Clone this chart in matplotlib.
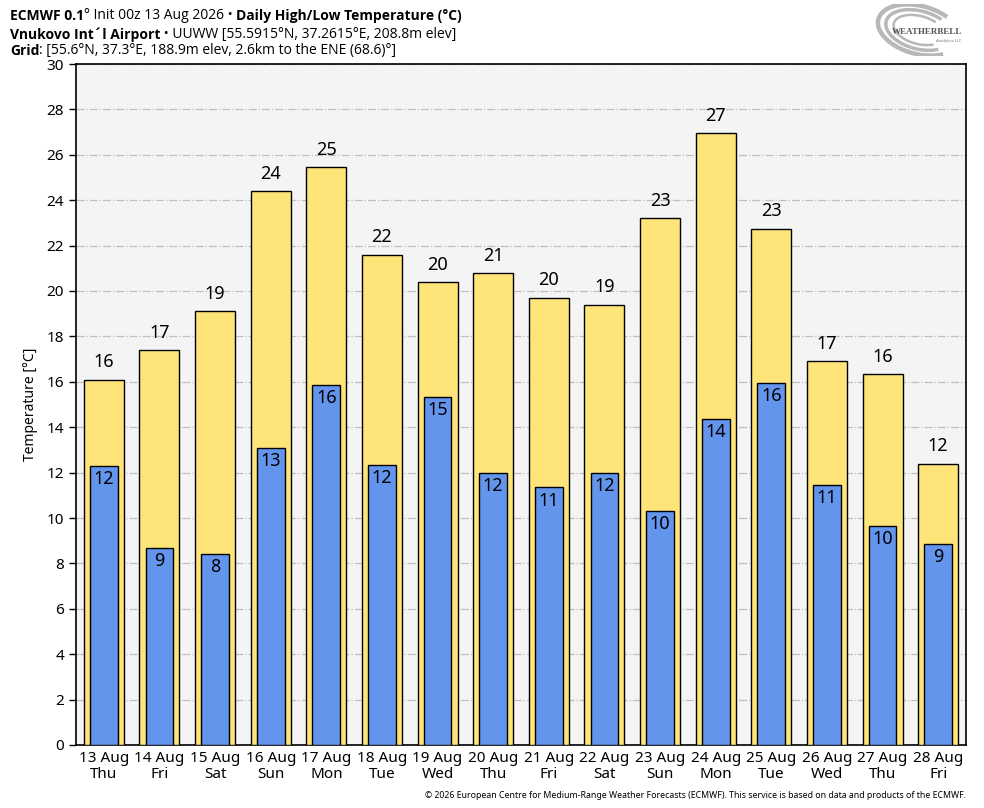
import matplotlib
matplotlib.use("Agg")
import matplotlib.pyplot as plt
from matplotlib.patches import Arc
import numpy as np

plt.rcParams['font.family'] = ['Noto Sans', 'DejaVu Sans']

# 日付とデータ
dates = ["13 Aug", "14 Aug", "15 Aug", "16 Aug", "17 Aug", "18 Aug", "19 Aug", "20 Aug",
         "21 Aug", "22 Aug", "23 Aug", "24 Aug", "25 Aug", "26 Aug", "27 Aug", "28 Aug"]
weekdays = ["Thu", "Fri", "Sat", "Sun", "Mon", "Tue", "Wed", "Thu",
            "Fri", "Sat", "Sun", "Mon", "Tue", "Wed", "Thu", "Fri"]
highs = [16.1, 17.4, 19.1, 24.4, 25.45, 21.6, 20.4, 20.8,
         19.7, 19.4, 23.2, 26.95, 22.75, 16.9, 16.35, 12.4]
lows = [12.3, 8.7, 8.4, 13.1, 15.85, 12.35, 15.35, 12.0,
        11.35, 12.0, 10.3, 14.35, 15.95, 11.45, 9.65, 8.85]

fig = plt.figure(figsize=(9.84, 8.08), dpi=100)
ax = fig.add_axes([76/984, 63/808, 890/984, 681/808])
ax.set_facecolor("#f4f4f4")

x = np.arange(len(dates))
ax.bar(x, highs, width=0.72, color="#ffe47a", edgecolor="black", linewidth=1.0, zorder=3)
ax.bar(x, lows, width=0.5, color="#6495ed", edgecolor="black", linewidth=1.0, zorder=4)

for xi, h, l in zip(x, highs, lows):
    ax.annotate(f"{int(round(h))}", (xi, h), xytext=(0, 6), textcoords="offset points",
                ha="center", va="bottom", fontsize=13, zorder=5)
    ax.annotate(f"{int(round(l))}", (xi, l), xytext=(0, -3), textcoords="offset points",
                ha="center", va="top", fontsize=13, zorder=5)

ax.set_xlim(-0.5, len(dates) - 0.5)
ax.set_ylim(0, 30)
ax.set_yticks(range(0, 31, 2))
ax.set_xticks(x)
ax.set_xticklabels([f"{d}\n{w}" for d, w in zip(dates, weekdays)], fontsize=11, linespacing=1.1)
ax.tick_params(axis="x", length=0, pad=4)
ax.tick_params(axis="y", labelsize=11, length=5, width=1)
ax.grid(axis="y", color="#c0c0c0", linestyle="-.", linewidth=0.9, zorder=0)
ax.set_axisbelow(True)
for s in ax.spines.values():
    s.set_linewidth(1.2)
ax.set_ylabel("Temperature [°C]", fontsize=10, labelpad=6)

# ヘッダー（太字と通常を横に連結）
hfont = ['Open Sans', 'DejaVu Sans']
lines = [
    [("ECMWF 0.1", "bold"), ("° Init 00z 13 Aug 2026 • ", "normal"),
     ("Daily High/Low Temperature (°C)", "bold")],
    [("Vnukovo Int´l Airport", "bold"), (" • UUWW [55.5915°N, 37.2615°E, 208.8m elev]", "normal")],
    [("Grid", "bold"), (": [55.6°N, 37.3°E, 188.9m elev, 2.6km to the ENE (68.6)°]", "normal")],
]
ys = [785, 766, 750]
for parts, yp in zip(lines, ys):
    prev = None
    for txt, w in parts:
        if prev is None:
            prev = fig.text(10/984, yp/808, txt, fontsize=10.0, fontweight=w, va="bottom",
                            family=hfont)
        else:
            prev = ax.annotate(txt, xy=(1, 0), xycoords=prev, fontsize=10.0, fontweight=w,
                               va="bottom", ha="left", annotation_clip=False, family=hfont)

# ロゴ（簡易）
lax = fig.add_axes([875/984, 752/808, 100/984, 52/808])
lax.set_xlim(0, 100)
lax.set_ylim(0, 52)
lax.axis("off")
for i, (w, h) in enumerate([(84, 48), (68, 38), (52, 28)]):
    lax.add_patch(Arc((44, 26), w, h, angle=-15, theta1=40, theta2=330,
                      color="#b8b8b8", linewidth=3.2 - i * 0.7))
lax.text(52, 24, "WEATHERBELL", fontsize=6.5, fontweight="bold", color="#555555",
         ha="center", va="center", family="Liberation Serif")
lax.text(74, 15, "Analytics LLC", fontsize=3, color="#777777", ha="center", va="center")

# フッター
fig.text(966/984, 10/808, "© 2026 European Centre for Medium-Range Weather Forecasts (ECMWF). "
         "This service is based on data and products of the ECMWF.",
         fontsize=6.3, ha="right", va="baseline")

fig.savefig("out.png", dpi=100)
